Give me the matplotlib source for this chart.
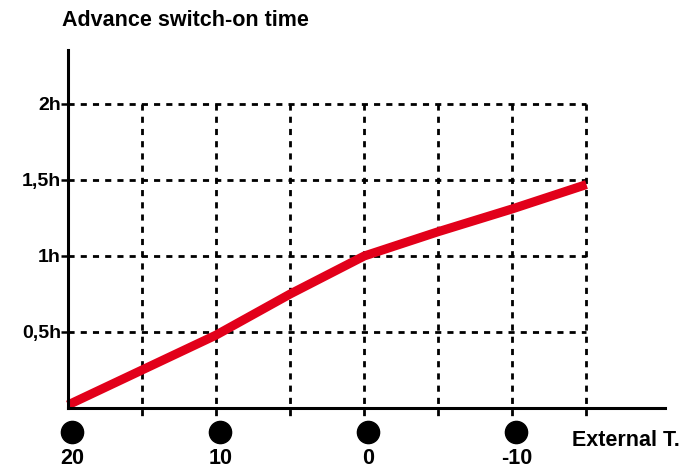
import matplotlib.pyplot as plt
import matplotlib.transforms as mtransforms

# Datos
temp_ext = [20, 15, 10, 5, 0, -5, -10, -15]
tiempo_h = [0.02, 0.25, 0.48, 0.75, 1.0, 1.16, 1.31, 1.47]

grid_x = [15, 10, 5, 0, -5, -10, -15]
grid_y = [0.5, 1.0, 1.5, 2.0]
y_labels = ["0,5h", "1h", "1,5h", "2h"]

marca_x = [20, 10, 0, -10]
marca_labels = ["20", "10", "0", "-10"]

plt.rcParams['font.family'] = ['Liberation Sans', 'DejaVu Sans']
plt.rcParams['font.weight'] = 'bold'

fig = plt.figure(figsize=(6.95, 4.7), dpi=100)
ax = fig.add_axes([68 / 695, 1 - 408 / 470, (665 - 68) / 695, (408 - 50) / 470])
ax.set_xlim(20, -20.3)
ax.set_ylim(0, 2.355)

# Rejilla punteada
for gy in grid_y:
    ax.plot([20, -15], [gy, gy], color='black', lw=2, dashes=(2.2, 2.2),
            solid_capstyle='butt', dash_capstyle='butt', zorder=1)
for gx in grid_x:
    ax.plot([gx, gx], [2.0, -0.05], color='black', lw=2, dashes=(2.2, 2.2),
            dash_capstyle='butt', clip_on=False, zorder=1)

# Curva
ax.plot(temp_ext, tiempo_h, color='#E2001A', lw=6.5, solid_capstyle='butt',
        solid_joinstyle='miter', zorder=3, clip_on=False)

# Ejes
for s in ['top', 'right']:
    ax.spines[s].set_visible(False)
for s in ['left', 'bottom']:
    ax.spines[s].set_linewidth(2.2)
    ax.spines[s].set_zorder(4)

ax.set_xticks([])
ax.set_yticks(grid_y)
ax.set_yticklabels(y_labels, fontsize=14, fontweight='bold')
ax.tick_params(axis='y', length=5, width=1.8, pad=0)

# Marcas de temperatura
offset = mtransforms.ScaledTranslation(4 / 100, 0, fig.dpi_scale_trans)
trans = mtransforms.blended_transform_factory(ax.transData, fig.transFigure) + offset
for xv, lab in zip(marca_x, marca_labels):
    ax.plot([xv], [1 - 432 / 470], marker='o', markersize=16, color='black',
            transform=trans, clip_on=False, linestyle='none')
    ax.text(xv, 1 - 459 / 470, lab, transform=trans, ha='center', va='center',
            fontsize=15.5, fontweight='bold')

fig.text(572 / 695, 1 - 440 / 470, "External T.", ha='left', va='center',
         fontsize=15.5, fontweight='bold')
fig.text(62 / 695, 1 - 20 / 470, "Advance switch-on time", ha='left', va='center',
         fontsize=15.5, fontweight='bold')

plt.savefig('out.png', dpi=100)
plt.close()
